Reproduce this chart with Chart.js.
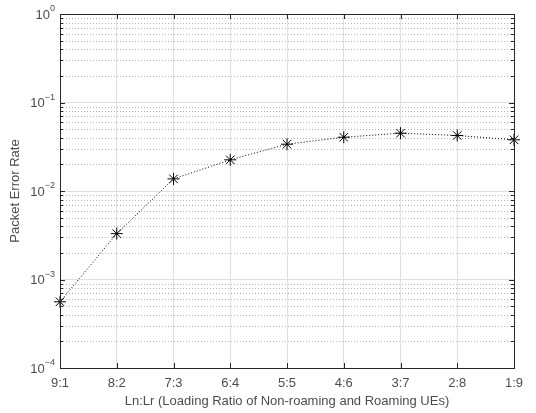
<!DOCTYPE html>
<html lang="en">
<head>
<meta charset="UTF-8">
<title>Packet Error Rate</title>
<style>
  body { margin: 0; padding: 0; background: #ffffff; }
  canvas { display: block; }
</style>
</head>
<body>
<canvas id="perChart" width="536" height="413"></canvas>
<script src="https://cdn.jsdelivr.net/npm/chart.js"></script>
<script>
// categories on the x axis
const ratios = ['9:1', '8:2', '7:3', '6:4', '5:5', '4:6', '3:7', '2:8', '1:9'];
// packet error rate
const perValues = [5.6e-4, 3.3e-3, 0.0137, 0.0225, 0.0338, 0.0405, 0.045, 0.0424, 0.0379];
// decades shown on the log axis (10^e)
const yDecades = [-4, -3, -2, -1, 0];

const textColor = '#4d4d4d';
const boxColor = '#262626';

// every 1..9 x 10^e tick between the first and last decade
const yTicks = [];
yDecades.forEach((e, i) => {
    const last = i === yDecades.length - 1;
    for (let m = 1; m <= (last ? 1 : 9); m++) {
        yTicks.push(m * Math.pow(10, e));
    }
});
const isMajor = v => Math.abs(Math.log10(v) - Math.round(Math.log10(v))) < 1e-9;

// dotted minor grid, box, inward ticks and 10^n labels
const matlabAxes = {
    id: 'matlabAxes',
    beforeDatasetsDraw(chart) {
        const { ctx, chartArea: a, scales: { y } } = chart;
        ctx.save();
        ctx.strokeStyle = '#b4b4b4';
        ctx.lineWidth = 1;
        ctx.setLineDash([1, 2]);
        yTicks.filter(v => !isMajor(v)).forEach(v => {
            const py = Math.round(y.getPixelForValue(v)) + 0.5;
            ctx.beginPath();
            ctx.moveTo(a.left, py);
            ctx.lineTo(a.right, py);
            ctx.stroke();
        });
        ctx.restore();
    },
    afterDraw(chart) {
        const { ctx, chartArea: a, scales: { x, y } } = chart;
        ctx.save();
        ctx.strokeStyle = boxColor;
        ctx.lineWidth = 1;
        ctx.strokeRect(a.left + 0.5, a.top + 0.5, a.right - a.left, a.bottom - a.top);
        ctx.beginPath();
        yTicks.forEach(v => {
            const py = Math.round(y.getPixelForValue(v)) + 0.5;
            const len = isMajor(v) ? 5 : 3;
            ctx.moveTo(a.left, py); ctx.lineTo(a.left + len, py);
            ctx.moveTo(a.right, py); ctx.lineTo(a.right - len, py);
        });
        ratios.forEach((r, i) => {
            const px = Math.round(x.getPixelForValue(i)) + 0.5;
            ctx.moveTo(px, a.bottom); ctx.lineTo(px, a.bottom - 5);
            ctx.moveTo(px, a.top); ctx.lineTo(px, a.top + 5);
        });
        ctx.stroke();

        ctx.fillStyle = textColor;
        ctx.textBaseline = 'middle';
        yDecades.forEach(e => {
            const py = y.getPixelForValue(Math.pow(10, e));
            const exp = String(e).replace('-', '\u2212');
            ctx.font = '9px "Liberation Sans", Arial, sans-serif';
            ctx.textAlign = 'left';
            const ew = ctx.measureText(exp).width;
            const ex = a.left - 5 - ew;
            ctx.fillText(exp, ex, py - 5);
            ctx.font = '13px "Liberation Sans", Arial, sans-serif';
            ctx.textAlign = 'right';
            ctx.fillText('10', ex, py + 1);
        });
        ctx.restore();
    }
};

new Chart(document.getElementById('perChart'), {
    type: 'line',
    data: {
        labels: ratios,
        datasets: [{
            label: 'Packet Error Rate',
            data: perValues,
            borderColor: '#000000',
            borderWidth: 1,
            borderDash: [1, 2],
            tension: 0,
            fill: false,
            pointStyle: 'star',
            pointRadius: 6,
            pointBorderColor: '#000000',
            pointBorderWidth: 1,
            pointBackgroundColor: '#000000',
            clip: false
        }]
    },
    options: {
        responsive: false,
        animation: false,
        layout: { padding: { top: 14, right: 22, left: 0, bottom: 0 } },
        plugins: {
            legend: { display: false },
            tooltip: { enabled: false }
        },
        scales: {
            x: {
                type: 'category',
                offset: false,
                grid: { color: '#e0e0e0', drawTicks: false },
                border: { display: false },
                ticks: {
                    color: textColor,
                    padding: 8,
                    maxRotation: 0,
                    font: { family: '"Liberation Sans", Arial, sans-serif', size: 13 }
                },
                title: {
                    display: true,
                    text: 'Ln:Lr (Loading Ratio of Non-roaming and Roaming UEs)',
                    color: textColor,
                    padding: { top: 2, bottom: 4 },
                    font: { family: '"Liberation Sans", Arial, sans-serif', size: 13 }
                },
                afterFit: scale => { scale.height = 45; }
            },
            y: {
                type: 'logarithmic',
                min: 1e-4,
                max: 1,
                afterBuildTicks: scale => { scale.ticks = yTicks.map(v => ({ value: v })); },
                grid: {
                    color: ctx => (ctx.tick && isMajor(ctx.tick.value)) ? '#e0e0e0' : 'rgba(0,0,0,0)',
                    drawTicks: false
                },
                border: { display: false },
                ticks: { display: false, autoSkip: false },
                title: {
                    display: true,
                    text: 'Packet Error Rate',
                    color: textColor,
                    padding: { top: 8, bottom: 4 },
                    font: { family: '"Liberation Sans", Arial, sans-serif', size: 13 }
                },
                afterFit: scale => { scale.width = 60; }
            }
        }
    },
    plugins: [matlabAxes]
});
</script>
</body>
</html>
